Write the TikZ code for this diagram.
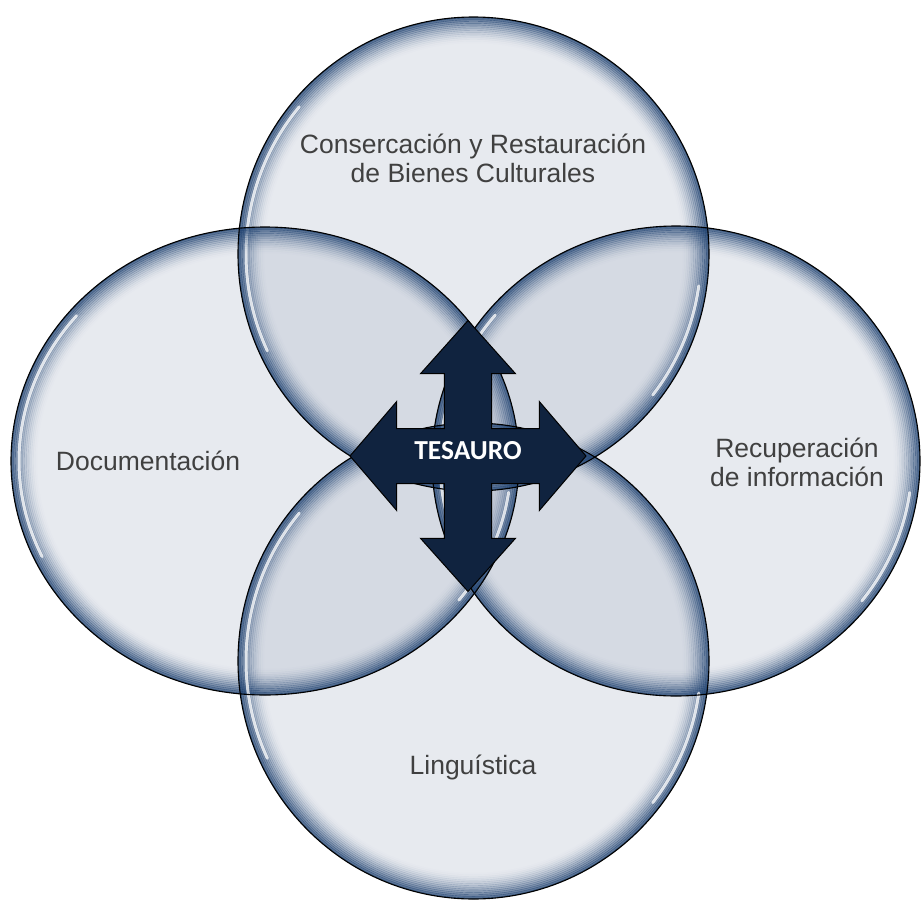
\documentclass[tikz,border=0pt]{standalone}
\usepackage{fontspec}
\setmainfont{Liberation Sans}
\newfontfamily\tesfont{Carlito}
\usepackage{tikz}
\usetikzlibrary{positioning}
\definecolor{bubblefill}{rgb}{0.64,0.68,0.76}
\definecolor{bubbleedge}{HTML}{1E4170}
\definecolor{navy}{HTML}{10233F}
\definecolor{labelgray}{HTML}{404040}
\tikzset{bubble/.style={fill=bubblefill,fill opacity=0.25},
         glow/.style={draw=bubbleedge,line width=2.2pt},
         rim/.style={draw=black,line width=1.1pt},
         shine/.style={draw=white,line width=3pt,draw opacity=0.75,line cap=round},
         topic/.style={text=labelgray,align=center,
                       font=\fontsize{26.5}{29}\selectfont},
         bigarrow/.style={fill=navy,draw=black,line width=1pt,line join=miter},
         hubtext/.style={text=white,font=\tesfont\bfseries\fontsize{27.5}{30}\selectfont}}

\begin{document}
\begin{tikzpicture}[x=1pt,y=-1pt]
  \fill[white] (0,0) rectangle (921,902);
  \useasboundingbox (0,0) rectangle (921,902);
  \foreach \name/\cx/\cy/\rx/\ry in {arriba/473.5/254/235.5/237,
      izq/265/461/254/234, der/676/461/244/235, abajo/473.5/661/235.5/238}
  {
    \coordinate (\name) at (\cx,\cy);
    \fill[bubble] (\name) ellipse [x radius=\rx, y radius=\ry];
  }
  \foreach \cx/\cy/\rx/\ry in {473.5/254/235.5/237, 265/461/254/234,
      676/461/244/235, 473.5/661/235.5/238}
  {
    \begin{scope}
      \clip (\cx,\cy) ellipse [x radius=\rx, y radius=\ry];
      \foreach \i [evaluate=\i as \op using 0.78*(1-\i/15)^1.8] in {0,...,14}
        \draw[glow,draw opacity=\op] (\cx,\cy)
          ellipse [x radius=\rx-1.8*\i, y radius=\ry-1.8*\i];
    \end{scope}
    \draw[shine] (\cx,\cy) ++(155:\rx-8 and \ry-8)
      arc [start angle=155, end angle=220, x radius=\rx-8, y radius=\ry-8];
    \draw[shine] (\cx,\cy) ++(8:\rx-8 and \ry-8)
      arc [start angle=8, end angle=38, x radius=\rx-8, y radius=\ry-8];
  }
  \draw[rim] (arriba) ellipse [x radius=235.5, y radius=237];
  \draw[rim] (izq) ellipse [x radius=254, y radius=234];
  \draw[rim] (der) ellipse [x radius=244, y radius=235];
  \draw[rim] (abajo) ellipse [x radius=235.5, y radius=238];

  \node[topic] (conserv) at (473,158)
    {Consercación y Restauración\\de Bienes Culturales};
  \node[topic] (docu) at (148,461) {Documentación};
  \node[topic] (recup) at (797,462) {Recuperación\\de información};
  \node[topic] (lingu) at (473,767) {Linguística};

  \coordinate (hub) at (468,456);
  \draw[bigarrow,shift={(hub)}] (0,-135.5) -- (47.5,-82.3) -- (23.7,-82.3)
    -- (23.7,-27.5) -- (71.3,-27.5) -- (71.3,-54.5) -- (118,0)
    -- (71.3,54.5) -- (71.3,27.5) -- (23.7,27.5) -- (23.7,82.3)
    -- (47.5,82.3) -- (0,135.5) -- (-47.5,82.3) -- (-23.7,82.3)
    -- (-23.7,27.5) -- (-71.3,27.5) -- (-71.3,54.5) -- (-118,0)
    -- (-71.3,-54.5) -- (-71.3,-27.5) -- (-23.7,-27.5) -- (-23.7,-82.3)
    -- (-47.5,-82.3) -- cycle;
  \node[hubtext] (tesauro) at (468,451) {TESAURO};
\end{tikzpicture}
\end{document}
